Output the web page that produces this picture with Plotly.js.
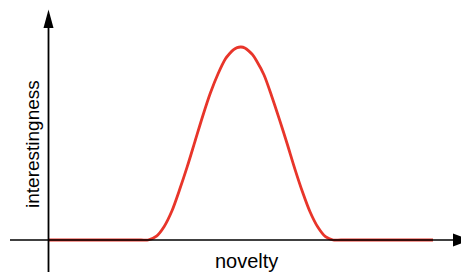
<!DOCTYPE html>
<html>
<head>
<meta charset="utf-8">
<script src="https://cdn.plot.ly/plotly-3.0.1.min.js"></script>
<style>html,body{margin:0;padding:0;background:#fff;}#chart{width:461px;height:272px;}</style>
</head>
<body>
<div id="chart"></div>
<script>
// Data (novelty 0..100, interestingness 0..1)
var novelty = [0, 12, 24, 25.8, 28, 30, 32, 34, 36, 38, 40, 42, 44, 46, 47, 48, 49, 50, 51, 52, 53, 54, 56, 58, 60, 62, 64, 66, 68, 70, 72, 74, 76, 88, 100];
var interestingness = [0, 0, 0, 0, 0.02, 0.07, 0.15, 0.26, 0.38, 0.51, 0.64, 0.76, 0.86, 0.94, 0.965, 0.985, 0.997, 1.0, 0.995, 0.98, 0.96, 0.93, 0.855, 0.745, 0.625, 0.50, 0.37, 0.25, 0.145, 0.067, 0.017, 0, 0, 0, 0];
var xLabel = "novelty";
var yLabel = "interestingness";

var W = 461, H = 272;
// pixel mapping of the axes
var X0PX = 49, X100PX = 433, Y0PX = 240, Y1PX = 47;
var xs = (X100PX - X0PX) / 100, ys = (Y0PX - Y1PX);
function px2x(p){ return (p - X0PX) / xs; }
function px2y(p){ return (Y0PX - p) / ys; }

var shapes = [
  {type:'line', xref:'x', yref:'y', x0:px2x(10), x1:px2x(455), y0:0, y1:0, line:{color:'#000', width:1.6}},
  {type:'line', xref:'x', yref:'y', x0:px2x(48.5), x1:px2x(48.5), y0:px2y(272), y1:px2y(26), line:{color:'#000', width:1.8}},
  {type:'path', xref:'x', yref:'y', fillcolor:'#000', line:{width:0},
   path:'M '+px2x(48.5)+' '+px2y(9.5)+' L '+px2x(43.5)+' '+px2y(28)+' L '+px2x(53.5)+' '+px2y(28)+' Z'},
  {type:'path', xref:'x', yref:'y', fillcolor:'#000', line:{width:0},
   path:'M '+px2x(471)+' '+px2y(240)+' L '+px2x(453)+' '+px2y(233.5)+' L '+px2x(453)+' '+px2y(246.5)+' Z'}
];

var trace = {
  x: novelty, y: interestingness, type:'scatter', mode:'lines',
  line:{color:'#e8352a', width:2.8, shape:'spline', smoothing:0.8},
  hoverinfo:'skip', cliponaxis:false
};

var layout = {
  width:W, height:H, margin:{l:0,r:0,t:0,b:0},
  paper_bgcolor:'#fff', plot_bgcolor:'#fff', showlegend:false,
  xaxis:{range:[px2x(0), px2x(W)], visible:false, fixedrange:true},
  yaxis:{range:[px2y(H), px2y(0)], visible:false, fixedrange:true},
  shapes: shapes,
  annotations:[
    {text:xLabel, xref:'x', yref:'y', x:px2x(246), y:px2y(261), showarrow:false,
     font:{family:'Liberation Sans, Arial, sans-serif', size:20, color:'#000'}, xanchor:'center', yanchor:'middle'},
    {text:yLabel, xref:'x', yref:'y', x:px2x(32), y:px2y(144), showarrow:false, textangle:-90,
     font:{family:'Liberation Sans, Arial, sans-serif', size:19, color:'#000'}, xanchor:'center', yanchor:'middle'}
  ]
};

Plotly.newPlot('chart', [trace], layout, {staticPlot:true, displayModeBar:false});
</script>
</body>
</html>
